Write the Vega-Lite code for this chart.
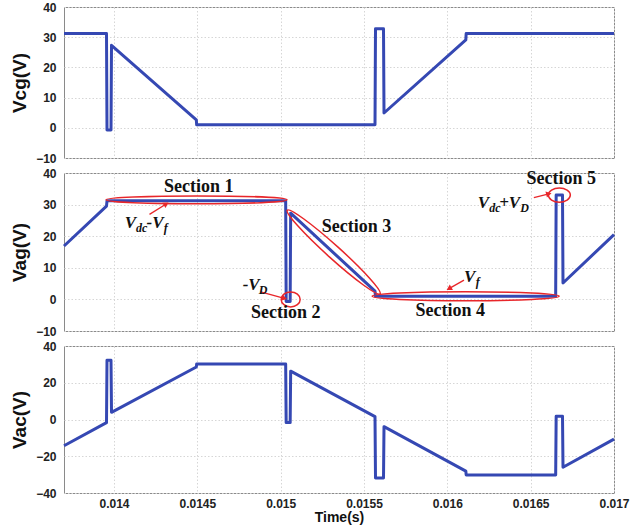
{
  "$schema": "https://vega.github.io/schema/vega-lite/v6.json",
  "padding": {"left": 10, "top": 0, "right": 5, "bottom": 0},
  "spacing": 15,
  "bounds": "flush",
  "datasets": {
    "wave": [
      {"panel": "Vcg", "i": 1, "t": 0.0137, "v": 31.2},
      {"panel": "Vcg", "i": 2, "t": 0.013955, "v": 31.2},
      {"panel": "Vcg", "i": 3, "t": 0.013958, "v": -0.7},
      {"panel": "Vcg", "i": 4, "t": 0.013982, "v": -0.7},
      {"panel": "Vcg", "i": 5, "t": 0.013985, "v": 27.3},
      {"panel": "Vcg", "i": 6, "t": 0.014494, "v": 2.6},
      {"panel": "Vcg", "i": 7, "t": 0.014496, "v": 1.0},
      {"panel": "Vcg", "i": 8, "t": 0.015566, "v": 1.0},
      {"panel": "Vcg", "i": 9, "t": 0.015569, "v": 32.8},
      {"panel": "Vcg", "i": 10, "t": 0.015617, "v": 32.8},
      {"panel": "Vcg", "i": 11, "t": 0.01562, "v": 4.9},
      {"panel": "Vcg", "i": 12, "t": 0.016111, "v": 29.1},
      {"panel": "Vcg", "i": 13, "t": 0.016113, "v": 31.2},
      {"panel": "Vcg", "i": 14, "t": 0.017, "v": 31.2},
      {"panel": "Vag", "i": 1, "t": 0.0137, "v": 16.9},
      {"panel": "Vag", "i": 2, "t": 0.013955, "v": 29.5},
      {"panel": "Vag", "i": 3, "t": 0.013958, "v": 31.2},
      {"panel": "Vag", "i": 4, "t": 0.01503, "v": 31.2},
      {"panel": "Vag", "i": 5, "t": 0.015033, "v": -0.7},
      {"panel": "Vag", "i": 6, "t": 0.015057, "v": -0.7},
      {"panel": "Vag", "i": 7, "t": 0.01506, "v": 27.3},
      {"panel": "Vag", "i": 8, "t": 0.015566, "v": 2.6},
      {"panel": "Vag", "i": 9, "t": 0.015569, "v": 1.0},
      {"panel": "Vag", "i": 10, "t": 0.01665, "v": 1.0},
      {"panel": "Vag", "i": 11, "t": 0.016653, "v": 33.0},
      {"panel": "Vag", "i": 12, "t": 0.016691, "v": 33.0},
      {"panel": "Vag", "i": 13, "t": 0.016694, "v": 5.2},
      {"panel": "Vag", "i": 14, "t": 0.017, "v": 20.5},
      {"panel": "Vac", "i": 1, "t": 0.0137, "v": -14.3},
      {"panel": "Vac", "i": 2, "t": 0.013955, "v": -1.7},
      {"panel": "Vac", "i": 3, "t": 0.013958, "v": 32.3},
      {"panel": "Vac", "i": 4, "t": 0.013982, "v": 32.3},
      {"panel": "Vac", "i": 5, "t": 0.013985, "v": 3.9},
      {"panel": "Vac", "i": 6, "t": 0.014494, "v": 28.6},
      {"panel": "Vac", "i": 7, "t": 0.014496, "v": 30.2},
      {"panel": "Vac", "i": 8, "t": 0.01503, "v": 30.2},
      {"panel": "Vac", "i": 9, "t": 0.015033, "v": -1.7},
      {"panel": "Vac", "i": 10, "t": 0.015057, "v": -1.7},
      {"panel": "Vac", "i": 11, "t": 0.01506, "v": 26.3},
      {"panel": "Vac", "i": 12, "t": 0.015566, "v": 1.6},
      {"panel": "Vac", "i": 13, "t": 0.015569, "v": -31.8},
      {"panel": "Vac", "i": 14, "t": 0.015617, "v": -31.8},
      {"panel": "Vac", "i": 15, "t": 0.01562, "v": -3.9},
      {"panel": "Vac", "i": 16, "t": 0.016111, "v": -28.1},
      {"panel": "Vac", "i": 17, "t": 0.016113, "v": -30.2},
      {"panel": "Vac", "i": 18, "t": 0.01665, "v": -30.2},
      {"panel": "Vac", "i": 19, "t": 0.016653, "v": 1.8},
      {"panel": "Vac", "i": 20, "t": 0.016691, "v": 1.8},
      {"panel": "Vac", "i": 21, "t": 0.016694, "v": -26.0},
      {"panel": "Vac", "i": 22, "t": 0.017, "v": -10.7}
    ],
    "notes": [
      {"kind": "sec", "label": "Section 1", "t": 0.014509, "v": 35.7},
      {"kind": "sec", "label": "Section 2", "t": 0.01503, "v": -4.2},
      {"kind": "sec", "label": "Section 3", "t": 0.015455, "v": 22.8},
      {"kind": "sec", "label": "Section 4", "t": 0.016018, "v": -3.6},
      {"kind": "sec", "label": "Section 5", "t": 0.016683, "v": 38.0},
      {"kind": "main", "label": "V", "t": 0.014064, "v": 24.1},
      {"kind": "sub", "label": "dc", "t": 0.014132, "v": 24.1},
      {"kind": "main", "label": "-V", "t": 0.014195, "v": 24.1},
      {"kind": "sub", "label": "f", "t": 0.014298, "v": 24.1},
      {"kind": "main", "label": "-V", "t": 0.014772, "v": 4.6},
      {"kind": "sub", "label": "D", "t": 0.014868, "v": 4.6},
      {"kind": "main", "label": "V", "t": 0.0161, "v": 7.1},
      {"kind": "sub", "label": "f", "t": 0.016171, "v": 7.1},
      {"kind": "main", "label": "V", "t": 0.016183, "v": 30.4},
      {"kind": "sub", "label": "dc", "t": 0.016251, "v": 30.4},
      {"kind": "main", "label": "+V", "t": 0.016311, "v": 30.4},
      {"kind": "sub", "label": "D", "t": 0.016437, "v": 30.4},
      {"kind": "arr", "t": 0.014213, "v": 26.9, "t2": 0.014313, "v2": 30.2, "heading": 58},
      {"kind": "arr", "t": 0.01488, "v": 2.4, "t2": 0.015022, "v2": 0.35, "heading": 105},
      {"kind": "arr", "t": 0.0161, "v": 6.1, "t2": 0.01601, "v2": 3.4, "heading": -120},
      {"kind": "arr", "t": 0.016519, "v": 32.2, "t2": 0.016609, "v2": 33.4, "heading": 76},
      {"kind": "e1", "t": 0.014495, "v": 31.5},
      {"kind": "e2", "t": 0.01506, "v": 0.0},
      {"kind": "e3", "t": 0.015318, "v": 15.0},
      {"kind": "e4", "t": 0.01611, "v": 1.0},
      {"kind": "e5", "t": 0.016672, "v": 33.0}
    ]
  },
  "vconcat": [
    {
      "width": 550,
      "height": 151,
      "data": {"name": "wave"},
      "transform": [{"filter": "datum.panel === 'Vcg'"}],
      "mark": {"type": "line", "color": "#3548b3", "strokeWidth": 3, "strokeJoin": "round"},
      "encoding": {
        "x": {"field": "t", "type": "quantitative", "scale": {"domain": [0.0137, 0.017], "nice": false, "zero": false},
              "axis": {"values": [0.014, 0.0145, 0.015, 0.0155, 0.016, 0.0165, 0.017], "labels": false, "title": null}},
        "y": {"field": "v", "type": "quantitative", "scale": {"domain": [-10, 40], "nice": false, "zero": false},
              "axis": {"values": [-10, 0, 10, 20, 30, 40], "title": "Vcg(V)"}},
        "order": {"field": "i", "type": "quantitative"}
      }
    },
    {
      "width": 550,
      "height": 158,
      "encoding": {
        "x": {"field": "t", "type": "quantitative", "scale": {"domain": [0.0137, 0.017], "nice": false, "zero": false},
              "axis": {"values": [0.014, 0.0145, 0.015, 0.0155, 0.016, 0.0165, 0.017], "labels": false, "title": null}},
        "y": {"field": "v", "type": "quantitative", "scale": {"domain": [-10, 40], "nice": false, "zero": false},
              "axis": {"values": [-10, 0, 10, 20, 30, 40], "title": "Vag(V)"}}
      },
      "layer": [
        {
          "data": {"name": "wave"},
          "transform": [{"filter": "datum.panel === 'Vag'"}],
          "mark": {"type": "line", "color": "#3548b3", "strokeWidth": 3, "strokeJoin": "round"},
          "encoding": {"order": {"field": "i", "type": "quantitative"}}
        },
        {
          "data": {"name": "notes"},
          "transform": [{"filter": "datum.kind === 'e1'"}],
          "mark": {"type": "point", "shape": "M-1,0A1,0.044,0,1,0,1,0A1,0.044,0,1,0,-1,0Z", "size": 32761, "filled": false, "color": "#e8262a", "strokeWidth": 1.5, "opacity": 1}
        },
        {
          "data": {"name": "notes"},
          "transform": [{"filter": "datum.kind === 'e2'"}],
          "mark": {"type": "point", "shape": "M-1,0A1,0.79,0,1,0,1,0A1,0.79,0,1,0,-1,0Z", "size": 361, "filled": false, "color": "#e8262a", "strokeWidth": 1.5, "opacity": 1}
        },
        {
          "data": {"name": "notes"},
          "transform": [{"filter": "datum.kind === 'e3'"}],
          "mark": {"type": "point", "shape": "M-1,0A1,0.104,0,1,0,1,0A1,0.104,0,1,0,-1,0Z", "size": 15625, "angle": 42, "filled": false, "color": "#e8262a", "strokeWidth": 1.5, "opacity": 1}
        },
        {
          "data": {"name": "notes"},
          "transform": [{"filter": "datum.kind === 'e4'"}],
          "mark": {"type": "point", "shape": "M-1,0A1,0.048,0,1,0,1,0A1,0.048,0,1,0,-1,0Z", "size": 34969, "filled": false, "color": "#e8262a", "strokeWidth": 1.5, "opacity": 1}
        },
        {
          "data": {"name": "notes"},
          "transform": [{"filter": "datum.kind === 'e5'"}],
          "mark": {"type": "point", "shape": "M-1,0A1,0.64,0,1,0,1,0A1,0.64,0,1,0,-1,0Z", "size": 484, "filled": false, "color": "#e8262a", "strokeWidth": 1.5, "opacity": 1}
        },
        {
          "data": {"name": "notes"},
          "transform": [{"filter": "datum.kind === 'arr'"}],
          "mark": {"type": "rule", "color": "#e8262a", "strokeWidth": 1.3},
          "encoding": {
            "x2": {"field": "t2"},
            "y2": {"field": "v2"}
          }
        },
        {
          "data": {"name": "notes"},
          "transform": [{"filter": "datum.kind === 'arr'"}],
          "mark": {"type": "point", "shape": "triangle-up", "size": 40, "filled": true, "color": "#e8262a", "opacity": 1},
          "encoding": {
            "x": {"field": "t2", "type": "quantitative"},
            "y": {"field": "v2", "type": "quantitative"},
            "angle": {"field": "heading", "type": "quantitative", "scale": null}
          }
        },
        {
          "data": {"name": "notes"},
          "transform": [{"filter": "datum.kind === 'sec'"}],
          "mark": {"type": "text", "font": "Liberation Serif", "fontWeight": "bold", "fontSize": 18, "align": "center", "baseline": "middle", "color": "#111"},
          "encoding": {"text": {"field": "label"}}
        },
        {
          "data": {"name": "notes"},
          "transform": [{"filter": "datum.kind === 'main'"}],
          "mark": {"type": "text", "font": "Liberation Serif", "fontWeight": "bold", "fontStyle": "italic", "fontSize": 17, "align": "left", "baseline": "middle", "color": "#111"},
          "encoding": {"text": {"field": "label"}}
        },
        {
          "data": {"name": "notes"},
          "transform": [{"filter": "datum.kind === 'sub'"}],
          "mark": {"type": "text", "font": "Liberation Serif", "fontWeight": "bold", "fontStyle": "italic", "fontSize": 12, "align": "left", "baseline": "middle", "dy": 5, "color": "#111"},
          "encoding": {"text": {"field": "label"}}
        }
      ]
    },
    {
      "width": 550,
      "height": 147,
      "data": {"name": "wave"},
      "transform": [{"filter": "datum.panel === 'Vac'"}],
      "mark": {"type": "line", "color": "#3548b3", "strokeWidth": 3, "strokeJoin": "round"},
      "encoding": {
        "x": {"field": "t", "type": "quantitative", "scale": {"domain": [0.0137, 0.017], "nice": false, "zero": false},
              "axis": {"values": [0.014, 0.0145, 0.015, 0.0155, 0.016, 0.0165, 0.017], "format": "~g", "title": "Time(s)"}},
        "y": {"field": "v", "type": "quantitative", "scale": {"domain": [-40, 40], "nice": false, "zero": false},
              "axis": {"values": [-40, -20, 0, 20, 40], "title": "Vac(V)"}},
        "order": {"field": "i", "type": "quantitative"}
      }
    }
  ],
  "config": {
    "view": {"stroke": "#8a8a8a", "strokeWidth": 1},
    "axis": {
      "grid": true, "gridColor": "#d6d6d6", "gridDash": [1.5, 2], "gridWidth": 1,
      "domain": false, "ticks": false, "labelFlush": false,
      "labelFont": "'Liberation Sans Narrow', 'Liberation Sans', Arial, sans-serif",
      "labelFontWeight": "bold", "labelFontSize": 12, "labelColor": "#222",
      "titleFont": "'Liberation Sans Narrow', 'Liberation Sans', Arial, sans-serif",
      "titleFontWeight": "bold", "titleColor": "#111"
    },
    "axisY": {"titleFontSize": 19, "labelPadding": 8, "titlePadding": 6},
    "axisX": {"titleFontSize": 14, "labelPadding": 5, "titlePadding": 1}
  }
}
